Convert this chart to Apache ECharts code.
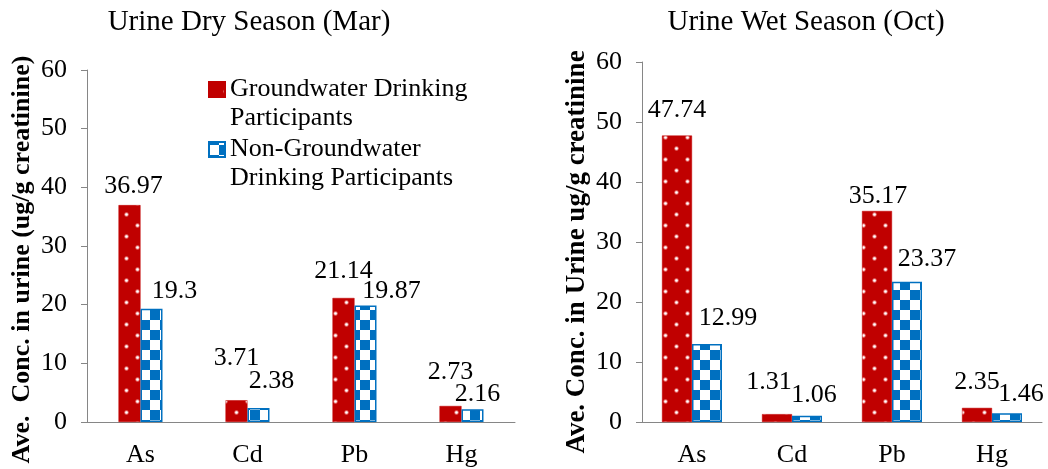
<!DOCTYPE html>
<html>
<head>
<meta charset="utf-8">
<style>
  html, body { margin: 0; padding: 0; background: #fff; }
  #chart { width: 1048px; height: 469px; }
</style>
<script src="https://cdn.jsdelivr.net/npm/echarts@6/dist/echarts.min.js"></script>
</head>
<body>
<div id="chart"></div>
<script>
// Average urinary metal concentrations (ug/g creatinine)
const categories = ['As', 'Cd', 'Pb', 'Hg'];
const dryGroundwater = [36.97, 3.71, 21.14, 2.73];
const dryNonGroundwater = [19.3, 2.38, 19.87, 2.16];
const wetGroundwater = [47.74, 1.31, 35.17, 2.35];
const wetNonGroundwater = [12.99, 1.06, 23.37, 1.46];
const yTicks = { min: 0, max: 60, interval: 10 };

// Hand placement of value labels (pixel nudges relative to the bar top)
const dryGwShift = [[4, -1], [0, -24], [0, -9], [0, -16]];
const dryNonShift = [[23, 0], [13, -9], [26, 4], [5, 3]];
const wetGwShift = [[0, -7], [-8, -14], [1, 3], [0, -8]];
const wetNonShift = [[21, -8], [7, -2], [20, -5], [14, -1]];

const SERIF = '"Liberation Serif", "Times New Roman", serif';
const RED = '#C00000';
const BLUE = '#0070C0';
const AXIS_GREY = '#868686';
const NAME_GW = 'Groundwater Drinking\nParticipants';
const NAME_NON = 'Non-Groundwater\nDrinking Participants';

// Red fill with a staggered grid of small white dots
function dotPattern() {
  const c = document.createElement('canvas');
  c.width = 22; c.height = 22;
  const g = c.getContext('2d');
  g.fillStyle = RED;
  g.fillRect(0, 0, 22, 22);
  [[5.5, 5.5], [16.5, 16.5]].forEach(function (p) {
    g.fillStyle = 'rgba(255,190,190,0.6)';
    g.beginPath(); g.arc(p[0], p[1], 2.2, 0, Math.PI * 2); g.fill();
    g.fillStyle = '#ffffff';
    g.beginPath(); g.arc(p[0], p[1], 1.3, 0, Math.PI * 2); g.fill();
  });
  return c;
}

// Blue / white checkerboard
function checkerPattern() {
  const s = 10;
  const c = document.createElement('canvas');
  c.width = 2 * s; c.height = 2 * s;
  const g = c.getContext('2d');
  g.fillStyle = '#ffffff';
  g.fillRect(0, 0, 2 * s, 2 * s);
  g.fillStyle = BLUE;
  g.fillRect(0, 0, s, s);
  g.fillRect(s, s, s, s);
  return c;
}

const redFill = { image: dotPattern(), repeat: 'repeat' };
const blueFill = { image: checkerPattern(), repeat: 'repeat' };

function withLabels(values, shifts) {
  return values.map(function (v, i) {
    return { value: v, label: { offset: shifts[i] } };
  });
}

const labelStyle = {
  show: true,
  position: 'top',
  distance: 5,
  color: '#000',
  fontFamily: SERIF,
  fontSize: 26
};

function yAxisFor(gridIndex, name, nameGap, nameSize, shiftPad) {
  return {
    type: 'value',
    gridIndex: gridIndex,
    min: yTicks.min,
    max: yTicks.max,
    interval: yTicks.interval,
    name: name,
    nameLocation: 'middle',
    nameRotate: 90,
    nameGap: nameGap,
    nameTextStyle: {
      fontFamily: SERIF,
      fontWeight: 'bold',
      fontSize: nameSize,
      color: '#000',
      padding: [0, shiftPad, 0, 0]
    },
    axisLine: { show: true, lineStyle: { color: AXIS_GREY, width: 1 } },
    axisTick: { show: true, length: 6, lineStyle: { color: AXIS_GREY } },
    splitLine: { show: false },
    axisLabel: { color: '#000', fontFamily: SERIF, fontSize: 26, margin: 20 }
  };
}

function xAxisFor(gridIndex) {
  return {
    type: 'category',
    gridIndex: gridIndex,
    data: categories,
    axisLine: { show: true, lineStyle: { color: AXIS_GREY, width: 1 } },
    axisTick: { show: false },
    axisLabel: { color: '#000', fontFamily: SERIF, fontSize: 26, margin: 20 }
  };
}

// Legend marker: square sitting beside the first text line
const legendIcon = 'path://M0,7L16,7L16,22L0,22Z M0,0Z M0,58Z';

const chart = echarts.init(document.getElementById('chart'), null, { renderer: 'canvas' });

chart.setOption({
  animation: false,
  backgroundColor: '#ffffff',
  title: [
    {
      text: 'Urine Dry Season (Mar)',
      left: 249, top: 8, padding: 0, textAlign: 'center',
      textStyle: { fontFamily: SERIF, fontWeight: 'normal', fontSize: 29, color: '#000' }
    },
    {
      text: 'Urine Wet Season (Oct)',
      left: 806, top: 8, padding: 0, textAlign: 'center',
      textStyle: { fontFamily: SERIF, fontWeight: 'normal', fontSize: 29, color: '#000' }
    }
  ],
  legend: {
    data: [NAME_GW, NAME_NON],
    orient: 'vertical',
    left: 208,
    top: 74,
    padding: 0,
    itemGap: 0,
    itemWidth: 16,
    itemHeight: 58,
    icon: legendIcon,
    selectedMode: false,
    textStyle: { fontFamily: SERIF, fontSize: 26, color: '#000', lineHeight: 29 }
  },
  grid: [
    { left: 87, right: 533, top: 70, bottom: 47, containLabel: false },
    { left: 642, right: 6, top: 62, bottom: 47, containLabel: false }
  ],
  xAxis: [xAxisFor(0), xAxisFor(1)],
  yAxis: [
    yAxisFor(0, 'Ave.  Conc. in urine (ug/g creatinine)', 52, 26, 27),
    yAxisFor(1, 'Ave. Conc. in Urine ug/g creatinine', 51, 27, 20)
  ],
  series: [
    {
      name: NAME_GW, type: 'bar', xAxisIndex: 0, yAxisIndex: 0,
      barWidth: 22, barGap: '0%',
      itemStyle: { color: redFill, borderColor: RED, borderWidth: 0.5 },
      label: labelStyle,
      data: withLabels(dryGroundwater, dryGwShift)
    },
    {
      name: NAME_NON, type: 'bar', xAxisIndex: 0, yAxisIndex: 0,
      barWidth: 22, barGap: '0%',
      itemStyle: { color: blueFill, borderColor: BLUE, borderWidth: 1.5 },
      label: labelStyle,
      data: withLabels(dryNonGroundwater, dryNonShift)
    },
    {
      name: NAME_GW, type: 'bar', xAxisIndex: 1, yAxisIndex: 1,
      barWidth: 30, barGap: '0%',
      itemStyle: { color: redFill, borderColor: RED, borderWidth: 0.5 },
      label: labelStyle,
      data: withLabels(wetGroundwater, wetGwShift)
    },
    {
      name: NAME_NON, type: 'bar', xAxisIndex: 1, yAxisIndex: 1,
      barWidth: 30, barGap: '0%',
      itemStyle: { color: blueFill, borderColor: BLUE, borderWidth: 1.5 },
      label: labelStyle,
      data: withLabels(wetNonGroundwater, wetNonShift)
    }
  ]
});
</script>
</body>
</html>
